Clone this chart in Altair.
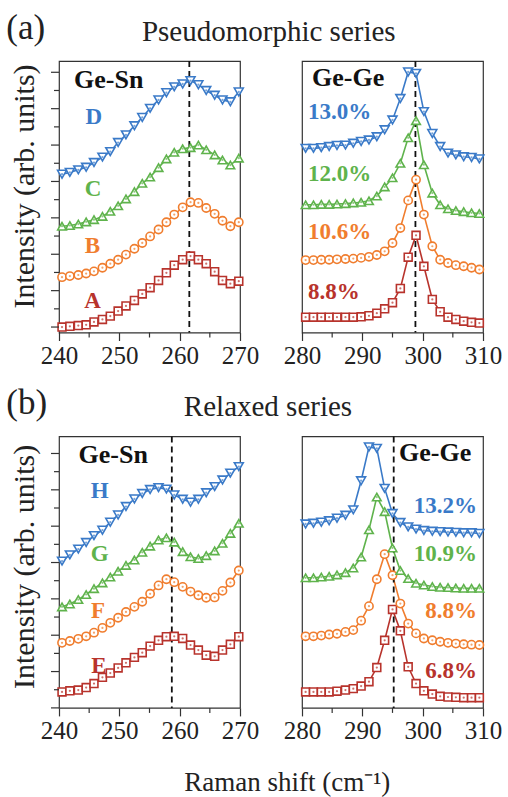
import altair as alt
import pandas as pd

FONT = "Liberation Serif"
COLORS = ["#b8332c", "#f07d2e", "#5fb34c", "#3a7ac8"]
SHAPES = ["square", "circle", "triangle-up", "triangle-down"]
SIZES = [62, 80, 95, 95]
KEYS = ["0", "1", "2", "3"]

# Raman shift sampling (cm^-1)
X_SN = [240.5, 241.8, 243.2, 244.5, 245.8, 247.2, 248.5, 249.8, 251.1, 252.5, 253.8, 255.1,
        256.5, 257.8, 259.1, 260.5, 261.8, 263.1, 264.4, 265.8, 267.1, 268.4, 269.8]
X_GE = [280.6, 281.9, 283.2, 284.5, 285.8, 287.2, 288.5, 289.8, 291.1, 292.4, 293.7, 295.0,
        296.3, 297.6, 298.9, 300.2, 301.6, 302.9, 304.2, 305.5, 306.8, 308.1, 309.4]

# (a) Pseudomorphic series, Ge-Sn mode (A, B, C, D)
PS_SN_A = [0.00, 0.02, 0.04, 0.06, 0.14, 0.21, 0.30, 0.44, 0.58, 0.73, 0.91, 1.08,
           1.28, 1.49, 1.70, 1.85, 1.95, 1.85, 1.74, 1.52, 1.28, 1.19, 1.26]
PS_SN_B = [1.37, 1.40, 1.43, 1.47, 1.53, 1.63, 1.74, 1.85, 1.99, 2.15, 2.31, 2.49,
           2.68, 2.88, 3.09, 3.29, 3.43, 3.41, 3.27, 3.11, 2.92, 2.77, 2.88]
PS_SN_C = [2.77, 2.79, 2.83, 2.89, 2.95, 3.04, 3.18, 3.33, 3.52, 3.72, 3.95, 4.12,
           4.38, 4.62, 4.80, 4.90, 4.93, 5.00, 4.87, 4.73, 4.59, 4.45, 4.64]
PS_SN_D = [4.20, 4.25, 4.32, 4.39, 4.52, 4.67, 4.82, 5.07, 5.28, 5.53, 5.76, 6.01,
           6.24, 6.44, 6.60, 6.68, 6.77, 6.66, 6.50, 6.37, 6.24, 6.19, 6.46]
# (a) Pseudomorphic series, Ge-Ge mode (8.8, 10.6, 12.0, 13.0 %)
PS_GE_88 = [0.27, 0.27, 0.27, 0.27, 0.27, 0.27, 0.27, 0.28, 0.31, 0.38, 0.50, 0.67,
            1.06, 1.92, 2.52, 1.67, 0.76, 0.42, 0.27, 0.21, 0.16, 0.13, 0.11]
PS_GE_106 = [1.84, 1.84, 1.85, 1.85, 1.86, 1.87, 1.88, 1.90, 1.93, 1.98, 2.08, 2.31,
             2.72, 3.48, 4.05, 3.09, 2.22, 1.85, 1.76, 1.70, 1.67, 1.63, 1.58]
PS_GE_120 = [3.36, 3.36, 3.37, 3.37, 3.38, 3.39, 3.41, 3.43, 3.47, 3.60, 3.85, 4.10,
             4.50, 5.20, 5.67, 4.46, 3.68, 3.36, 3.25, 3.20, 3.17, 3.14, 3.12]
PS_GE_130 = [4.91, 4.91, 4.93, 4.96, 4.99, 5.00, 5.05, 5.10, 5.14, 5.23, 5.42, 5.69,
             6.28, 7.01, 6.97, 5.92, 5.32, 4.96, 4.78, 4.73, 4.68, 4.66, 4.62]

# (b) Relaxed series, Ge-Sn mode (E, F, G, H)
RX_SN_E = [0.44, 0.47, 0.49, 0.56, 0.67, 0.84, 0.96, 1.10, 1.24, 1.39, 1.52, 1.70,
           1.86, 1.96, 1.97, 1.91, 1.73, 1.59, 1.45, 1.42, 1.59, 1.75, 1.96]
RX_SN_F = [1.79, 1.84, 1.90, 1.97, 2.07, 2.20, 2.34, 2.48, 2.64, 2.78, 2.92, 3.14,
           3.37, 3.54, 3.46, 3.33, 3.20, 3.10, 3.03, 3.04, 3.22, 3.45, 3.78]
RX_SN_G = [2.78, 2.86, 2.98, 3.12, 3.28, 3.44, 3.60, 3.76, 3.92, 4.07, 4.28, 4.45,
           4.62, 4.68, 4.56, 4.30, 4.16, 4.11, 4.19, 4.32, 4.53, 4.80, 5.08]
RX_SN_H = [4.04, 4.21, 4.37, 4.55, 4.74, 4.89, 5.11, 5.31, 5.54, 5.75, 5.90, 6.01,
           6.06, 6.02, 5.86, 5.74, 5.66, 5.74, 5.92, 6.09, 6.27, 6.46, 6.64]
# (b) Relaxed series, Ge-Ge mode (6.8, 8.8, 10.9, 13.2 %)
RX_GE_68 = [0.44, 0.44, 0.44, 0.44, 0.46, 0.49, 0.53, 0.60, 0.72, 1.11, 1.86, 2.71,
            2.12, 1.13, 0.67, 0.47, 0.38, 0.32, 0.30, 0.29, 0.28, 0.28, 0.28]
RX_GE_88 = [1.97, 1.97, 1.99, 2.02, 2.04, 2.09, 2.14, 2.40, 2.80, 3.54, 4.23, 3.65,
            2.87, 2.32, 2.05, 1.91, 1.86, 1.82, 1.79, 1.77, 1.75, 1.74, 1.73]
RX_GE_109 = [3.58, 3.58, 3.60, 3.62, 3.66, 3.72, 3.85, 4.15, 4.90, 5.80, 5.40, 4.40,
             3.78, 3.56, 3.43, 3.38, 3.34, 3.32, 3.31, 3.30, 3.29, 3.29, 3.29]
RX_GE_132 = [5.06, 5.08, 5.11, 5.15, 5.22, 5.30, 5.45, 6.25, 7.18, 7.14, 6.04, 5.35,
             5.10, 4.98, 4.92, 4.88, 4.86, 4.85, 4.84, 4.83, 4.82, 4.82, 4.80]

DASH = {"a_sn": 261.6, "a_ge": 298.8, "b_sn": 258.7, "b_ge": 295.2}
X_MAJOR_SN = [240, 250, 260, 270]
X_MINOR_SN = [245, 255, 265]
X_MAJOR_GE = [280, 290, 300, 310]
X_MINOR_GE = [285, 295, 305]
Y_MAJOR = [0, 1, 2, 3, 4, 5, 6, 7]
Y_MINOR = [0.5, 1.5, 2.5, 3.5, 4.5, 5.5, 6.5]

W = 181
H = 271.5
TICK = "#333"
ONE = pd.DataFrame({"t": [0]})


def make_df(xs, series):
    rows = []
    for k, ys in enumerate(series):
        for x, y in zip(xs, ys):
            rows.append({"x": x, "y": y, "s": KEYS[k]})
    return pd.DataFrame(rows)


def text_layer(txt, px, py, color="#111", size=26, weight="bold", align="left"):
    return alt.Chart(ONE).mark_text(
        text=txt, font=FONT, fontSize=size, fontWeight=weight, align=align,
        baseline="alphabetic", color=color
    ).encode(x=alt.value(px), y=alt.value(py))


def panel(xs, series, xdom, xmajor, xminor, ydom, dash, labels, left_axis, title_y):
    df = make_df(xs, series)
    xenc = alt.X("x:Q", scale=alt.Scale(domain=xdom, nice=False, zero=False),
                 axis=alt.Axis(values=xmajor, title=None, grid=False, domain=False,
                               tickSize=8, tickColor=TICK, tickWidth=1.2,
                               labelFont=FONT, labelFontSize=25, labelColor="#222",
                               labelPadding=3, labelFlush=False))
    if left_axis:
        yaxis = alt.Axis(values=Y_MAJOR, labels=False, ticks=False, grid=False, domain=False,
                         title="Intensity (arb. units)", titleFont=FONT, titleFontSize=30,
                         titleFontWeight="normal", titleColor="#222", titlePadding=20,
                         titleY=title_y)
    else:
        yaxis = None
    yenc = alt.Y("y:Q", scale=alt.Scale(domain=ydom, nice=False, zero=False), axis=yaxis)
    color = alt.Color("s:N", scale=alt.Scale(domain=KEYS, range=COLORS), legend=None)
    base = alt.Chart(df)
    line = base.mark_line(strokeWidth=1.6).encode(x=xenc, y=yenc, color=color)
    pts = base.mark_point(fill="white", fillOpacity=1, opacity=1, strokeWidth=1.6).encode(
        x=xenc, y=yenc, color=color,
        shape=alt.Shape("s:N", scale=alt.Scale(domain=KEYS, range=SHAPES), legend=None),
        size=alt.Size("s:N", scale=alt.Scale(domain=KEYS, range=SIZES), legend=None))
    dots = base.mark_point(filled=True, shape="circle", size=5, opacity=0.7).encode(
        x=xenc, y=yenc, color=color)
    rule = alt.Chart(pd.DataFrame({"x": [dash]})).mark_rule(
        strokeDash=[6, 4], strokeWidth=1.8, color="#111").encode(x=xenc)
    xmin = alt.Chart(pd.DataFrame({"x": xminor})).mark_rule(
        color=TICK, strokeWidth=1.2).encode(x=xenc, y=alt.value(H), y2=alt.value(H + 5))
    layers = [line, rule, pts, dots, xmin]
    if left_axis:
        ymaj = alt.Chart(pd.DataFrame({"y": Y_MAJOR})).mark_rule(
            color=TICK, strokeWidth=1.2).encode(y=yenc, x=alt.value(-8), x2=alt.value(0))
        ymin = alt.Chart(pd.DataFrame({"y": Y_MINOR})).mark_rule(
            color=TICK, strokeWidth=1.2).encode(y=yenc, x=alt.value(-5), x2=alt.value(0))
        layers += [ymaj, ymin]
    layers += [text_layer(*l) for l in labels]
    return alt.layer(*layers).properties(width=W, height=H)


a_left = panel(X_SN, [PS_SN_A, PS_SN_B, PS_SN_C, PS_SN_D], [240, 270], X_MAJOR_SN, X_MINOR_SN,
               [-0.15, 7.31], DASH["a_sn"],
               [("(a)", -52.7, -21.7, "#222", 35, "normal"),
                ("Pseudomorphic series", 209.8, -19.7, "#222", 29, "normal", "center"),
                ("Ge-Sn", 15, 26.6),
                ("D", 34.8, 63.3, COLORS[3], 23, "bold", "center"),
                ("C", 34.0, 135, COLORS[2], 23, "bold", "center"),
                ("B", 33.5, 191.6, COLORS[1], 23, "bold", "center"),
                ("A", 33.5, 246.6, COLORS[0], 23, "bold", "center")],
               True, 125)
a_right = panel(X_GE, [PS_GE_88, PS_GE_106, PS_GE_120, PS_GE_130], [280, 310], X_MAJOR_GE, X_MINOR_GE,
                [-0.15, 7.31], DASH["a_ge"],
                [("Ge-Ge", 10, 25),
                 ("13.0%", 6, 58.3, COLORS[3], 23),
                 ("12.0%", 6, 120, COLORS[2], 23),
                 ("10.6%", 6, 178.3, COLORS[1], 23),
                 ("8.8%", 6, 238.3, COLORS[0], 23)],
                False, 125)
b_left = panel(X_SN, [RX_SN_E, RX_SN_F, RX_SN_G, RX_SN_H], [240, 270], X_MAJOR_SN, X_MINOR_SN,
               [0, 7.47], DASH["b_sn"],
               [("(b)", -52.7, -22, "#222", 35, "normal"),
                ("Relaxed series", 209, -20, "#222", 29, "normal", "center"),
                ("Ge-Sn", 19.6, 26.6),
                ("H", 40.6, 61.6, COLORS[3], 23, "bold", "center"),
                ("G", 40.6, 125, COLORS[2], 23, "bold", "center"),
                ("F", 39.0, 181.6, COLORS[1], 23, "bold", "center"),
                ("E", 39.8, 236.6, COLORS[0], 23, "bold", "center")],
               True, 130)
b_right = panel(X_GE, [RX_GE_68, RX_GE_88, RX_GE_109, RX_GE_132], [280, 310], X_MAJOR_GE, X_MINOR_GE,
                [0, 7.47], DASH["b_ge"],
                [("Ge-Ge", 97, 25),
                 ("13.2%", 175, 76.6, COLORS[3], 23, "bold", "right"),
                 ("10.9%", 175, 125, COLORS[2], 23, "bold", "right"),
                 ("8.8%", 175, 181.6, COLORS[1], 23, "bold", "right"),
                 ("6.8%", 175, 241.6, COLORS[0], 23, "bold", "right"),
                 ("Raman shift (cm\u207b\u00b9)", -14.7, 355, "#222", 27, "normal", "center")],
                False, 130)

chart = alt.concat(a_left, a_right, b_left, b_right, columns=2,
                   spacing={"row": 103.4, "column": 62}, bounds="flush").properties(
    padding={"left": 5, "top": 10, "right": 0, "bottom": 0},
    background="white",
).configure_view(stroke="#333", strokeWidth=1.2)

chart.save("out.html", embed_options={"renderer": "svg", "actions": False})
